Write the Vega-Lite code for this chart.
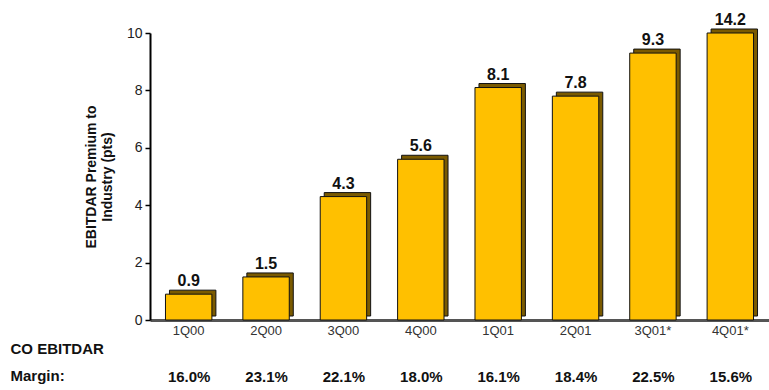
{
  "$schema": "https://vega.github.io/schema/vega-lite/v6.json",
  "width": 619,
  "height": 287,
  "autosize": "none",
  "padding": {"left": 150, "top": 33, "right": 0, "bottom": 70},
  "background": "white",
  "config": {
    "view": {"stroke": null},
    "font": "Liberation Sans"
  },
  "data": {
    "values": [
      {"quarter": "1Q00", "value": 0.9, "margin": "16.0%"},
      {"quarter": "2Q00", "value": 1.5, "margin": "23.1%"},
      {"quarter": "3Q00", "value": 4.3, "margin": "22.1%"},
      {"quarter": "4Q00", "value": 5.6, "margin": "18.0%"},
      {"quarter": "1Q01", "value": 8.1, "margin": "16.1%"},
      {"quarter": "2Q01", "value": 7.8, "margin": "18.4%"},
      {"quarter": "3Q01*", "value": 9.3, "margin": "22.5%"},
      {"quarter": "4Q01*", "value": 14.2, "margin": "15.6%"}
    ]
  },
  "layer": [
    {
      "encoding": {
        "x": {
          "field": "quarter", "type": "nominal", "sort": null,
          "scale": {"paddingInner": 0.4, "paddingOuter": 0.2},
          "axis": {
            "orient": "bottom", "title": null, "labelAngle": 0, "ticks": false,
            "domainColor": "#555", "domainWidth": 3,
            "labelFont": "Liberation Sans", "labelFontSize": 13, "labelColor": "#333",
            "labelPadding": 4
          }
        },
        "y": {
          "field": "value", "type": "quantitative",
          "scale": {"domain": [0, 10], "clamp": true, "nice": false},
          "axis": {
            "values": [0, 2, 4, 6, 8, 10], "grid": false,
            "title": ["EBITDAR Premium to", "Industry (pts)"],
            "titleFont": "Liberation Sans", "titleFontSize": 14, "titleFontWeight": "bold",
            "titleColor": "#111", "titlePadding": 12, "titleLineHeight": 16,
            "labelFont": "Liberation Sans", "labelFontSize": 14, "labelColor": "#222",
            "domainColor": "#000", "domainWidth": 2, "tickColor": "#000", "tickSize": 5, "tickWidth": 1.5,
            "labelPadding": 3
          }
        }
      },
      "layer": [
        {
          "mark": {"type": "bar", "color": "#7a5a00", "stroke": "#111", "strokeWidth": 1, "xOffset": 4, "yOffset": -4}
        },
        {
          "mark": {"type": "bar", "color": "#FFC000", "stroke": "#111", "strokeWidth": 1}
        },
        {
          "mark": {"type": "text", "baseline": "bottom", "dy": -5, "fontSize": 16, "fontWeight": "bold", "color": "#111", "font": "Liberation Sans"},
          "encoding": {
            "text": {"field": "value", "type": "quantitative", "format": ".1f"}
          }
        }
      ]
    },
    {
      "mark": {"type": "point", "opacity": 0},
      "encoding": {
        "x": {
          "field": "margin", "type": "nominal", "sort": null,
          "scale": {"paddingInner": 0.4, "paddingOuter": 0.2},
          "axis": {
            "orient": "bottom", "labelAngle": 0, "ticks": false, "domain": false,
            "labelFont": "Liberation Sans", "labelFontSize": 15, "labelFontWeight": "bold",
            "labelColor": "#111", "labelPadding": 49,
            "title": ["CO EBITDAR", "Margin:"],
            "titleFont": "Liberation Sans", "titleFontSize": 15, "titleFontWeight": "bold",
            "titleColor": "#111", "titleAlign": "left", "titleAnchor": "start",
            "titleBaseline": "top", "titleX": -140, "titleY": 21, "titleLineHeight": 27
          }
        },
        "y": {"datum": 0, "type": "quantitative"}
      }
    }
  ],
  "resolve": {"scale": {"x": "independent"}, "axis": {"x": "independent"}}
}
